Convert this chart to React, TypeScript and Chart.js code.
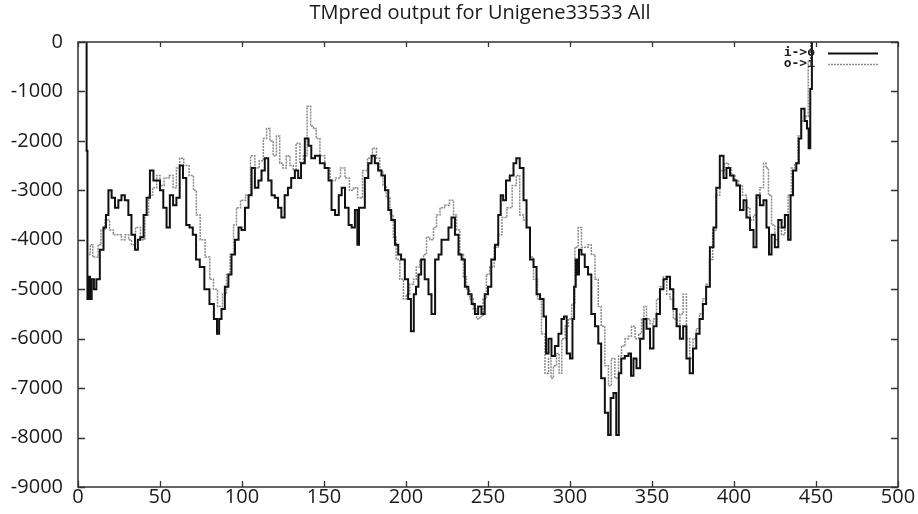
import React, { useEffect, useRef } from "react";
import { Chart, registerables } from "chart.js";

Chart.register(...registerables);

const TITLE = "TMpred output for Unigene33533 All";
const SERIES_NAMES = ["i->o", "o->i"];
const X_TICKS = [0, 50, 100, 150, 200, 250, 300, 350, 400, 450, 500];
const Y_TICKS = [0, -1000, -2000, -3000, -4000, -5000, -6000, -7000, -8000, -9000];

// i->o (solid black)
const ioPos = [
  5, 5.5, 6, 7, 7.7, 9, 10.4, 12, 14.6, 16.5,
  17.6, 19.5, 21.5, 23.6, 25.6, 27.4, 29.7, 31.7, 33.5, 36,
  37, 39, 41, 42.7, 45, 47, 49, 51, 53, 55,
  57, 59, 61, 63, 65, 67, 69, 71, 73, 75.5,
  78.6, 81.7, 84, 85.5, 86.6, 88.4, 90.7, 92.7, 94.5, 97,
  98.8, 100.6, 103, 105, 106.7, 109, 111, 112.8, 115, 117,
  119, 121, 123, 125, 127, 129, 131, 133.5, 135, 137,
  139.6, 141.5, 143, 146, 149, 151.8, 153.7, 155.5, 158, 160,
  161.6, 164, 166, 167.7, 170, 170.7, 172, 173.8, 176, 178,
  180, 182, 184, 186, 188.4, 190, 192, 194.5, 196, 198,
  200.6, 202, 204, 205.5, 206.7, 208.5, 210, 212.8, 214.6, 216.5,
  219, 220.7, 222.6, 225, 226.8, 228.7, 231, 233, 234.8, 237,
  239, 241, 243, 245, 247, 249, 251, 253, 255.5, 257,
  258.5, 260, 262, 264.6, 266.5, 268, 270.7, 272.6, 274.4, 276.8,
  278.7, 280.5, 283, 284.8, 286, 287.8, 289.6, 292, 293.9, 295.7,
  297, 299, 301, 302, 303, 304, 305, 306, 308, 310,
  312, 314, 316.5, 318, 320, 322.5, 324, 325.6, 327.4, 329,
  330.5, 332, 334.8, 336.6, 337.8, 339.6, 341.5, 344, 345.7, 347.6,
  350, 351.8, 353.7, 356, 358, 360, 362, 364, 366, 368,
  370, 372, 374, 376, 378, 380, 382, 384, 386.6, 388.4,
  390, 392.7, 394.5, 396.3, 398.8, 400.6, 402.4, 404.9, 406.7, 408.5,
  411, 412.8, 414.6, 417, 418.9, 420.7, 422, 423.8, 426, 428,
  430, 432, 434, 435, 437, 439, 440, 442, 444, 445,
  446, 447, 448,
];
const ioScore = [
  0, -2200, -5200, -4750, -5200, -4800, -5000, -4800, -4200, -3750,
  -3500, -3000, -3150, -3350, -3200, -3100, -3200, -3500, -3900, -4200,
  -4000, -3950, -3500, -3150, -2600, -2800, -2800, -3000, -3350, -3750,
  -3100, -3300, -3150, -2500, -2750, -3700, -3750, -3900, -4400, -4550,
  -5000, -5300, -5600, -5900, -5600, -5400, -4950, -4700, -4300, -4000,
  -3750, -3800, -3350, -3100, -2550, -2950, -2800, -2600, -2350, -2800,
  -3100, -3150, -3350, -3550, -3100, -2950, -2750, -2600, -2750, -2450,
  -1950, -2100, -2350, -2300, -2450, -2550, -2800, -3400, -3500, -3100,
  -2950, -3350, -3700, -3750, -3400, -4100, -3350, -3350, -2750, -2450,
  -2300, -2450, -2600, -2700, -3000, -3400, -3600, -4100, -4300, -4400,
  -4800, -5200, -5850, -5100, -4950, -4700, -4400, -4800, -5100, -5500,
  -4400, -4300, -4000, -4000, -3750, -3550, -3900, -4300, -4400, -4950,
  -5100, -5300, -5500, -5350, -5500, -5100, -4950, -4400, -4100, -3500,
  -3100, -3200, -2800, -2700, -2450, -2350, -2550, -3200, -3750, -4400,
  -4550, -5100, -5200, -5550, -6300, -6000, -6350, -6150, -5900, -5600,
  -5550, -6300, -6400, -5600, -4950, -4400, -4700, -4200, -4300, -4550,
  -4700, -5500, -5750, -6100, -6800, -7500, -7950, -7200, -7100, -7950,
  -6700, -6400, -6350, -6300, -6750, -6400, -6600, -6000, -5600, -5800,
  -6200, -5750, -5500, -5000, -4800, -4750, -5000, -5400, -5750, -6000,
  -5750, -6400, -6700, -6200, -5900, -5600, -5300, -4950, -4150, -3750,
  -2950, -2300, -2750, -2550, -2700, -2800, -2900, -3400, -3200, -3550,
  -3800, -4150, -3100, -3300, -3200, -3750, -4300, -3900, -4150, -3600,
  -3750, -3500, -4000, -3100, -2600, -2450, -1950, -1350, -1600, -1750,
  -2150, -950, 0,
];

// o->i (dotted grey)
const oiPos = [
  6.5, 8.5, 9.5, 11.5, 13, 15, 18, 20.5, 22.5, 25.6,
  27.4, 30, 31.7, 33.5, 36.6, 39.6, 42, 44, 47, 49,
  51, 54, 57, 59, 61, 63, 66, 69.5, 71.3, 73,
  76, 79, 81.7, 83.5, 86.6, 89.6, 91.5, 94, 95.7, 97.6,
  100.6, 103.7, 106.7, 109, 112, 114, 116, 118, 120, 122,
  124, 126, 128, 130.5, 132, 134, 136.6, 138.4, 141, 142.7,
  144.5, 146, 149, 152, 155.5, 158.5, 161.6, 164, 167, 169,
  172, 175, 178, 181, 183, 185, 187, 189, 191.5, 193,
  195, 197.5, 199.4, 201, 203.7, 205.5, 207, 209.8, 211.6, 213.4,
  215.8, 217.7, 219.5, 222, 225, 228, 230, 231.7, 234, 236,
  237.8, 240, 242, 244, 246, 248, 250, 252, 255.5, 257,
  260, 263, 266.5, 268, 270.7, 272.6, 274.4, 276.8, 278.7, 281.7,
  283.5, 286, 287.8, 289, 290.8, 292.7, 294, 296, 298, 300,
  302, 304, 306, 308, 310, 312, 314, 316.5, 318, 320,
  322.5, 324.4, 326, 328.7, 330.5, 332.3, 334.8, 336.6, 338.4, 341,
  342.7, 344.5, 345.7, 347.6, 350, 351.8, 353.7, 356, 358, 360,
  362, 364, 366, 368, 370, 372, 374, 376, 378, 380,
  382, 384, 386, 388, 390, 392.7, 395.7, 397.6, 399.4, 401.8,
  403.7, 406.7, 408.5, 411, 412.8, 414.6, 417, 419, 420, 422,
  423.8, 426, 428, 430, 432, 434, 436, 438, 440, 442,
  444.5, 446, 447.5,
];
const oiScore = [
  -4300, -4100, -4350, -4350, -4100, -3800, -3600, -3800, -3900, -3900,
  -4000, -3900, -4000, -4100, -3750, -4000, -3500, -3100, -2950, -2700,
  -2900, -2750, -2700, -2950, -2550, -2350, -2500, -2700, -3000, -3500,
  -4000, -4350, -4800, -5000, -5350, -5100, -4700, -4300, -3700, -3350,
  -3200, -3100, -2300, -2550, -2400, -1950, -1750, -2000, -2300, -1900,
  -2450, -2550, -2300, -2500, -2600, -2050, -2450, -2300, -1300, -1700,
  -1750, -1950, -2300, -2550, -2800, -2750, -2550, -2750, -3000, -2950,
  -3150, -2600, -2350, -2150, -2350, -2600, -2900, -3150, -3500, -3950,
  -4400, -4800, -5200, -5100, -4900, -4800, -4550, -4400, -4300, -3950,
  -4000, -3750, -3500, -3350, -3300, -3200, -3500, -3800, -4300, -4750,
  -5000, -5200, -5400, -5600, -5550, -5200, -4700, -4550, -4150, -3900,
  -3550, -3350, -2900, -2700, -3500, -3600, -3750, -4350, -4800, -5200,
  -5900, -6700, -6400, -6800, -6550, -6300, -6700, -6000, -5750, -5600,
  -5300, -4150, -3750, -4150, -4150, -4100, -4300, -4800, -5350, -5750,
  -6550, -6950, -6400, -6800, -6350, -6150, -6000, -5950, -5750, -6000,
  -5900, -5600, -5350, -5600, -5700, -5600, -5200, -4950, -4750, -5100,
  -5200, -5600, -5750, -5500, -5100, -6000, -6400, -6000, -5800, -5500,
  -5200, -4900, -4400, -3800, -3100, -2600, -2450, -2550, -2700, -2800,
  -2900, -3100, -3350, -3600, -3500, -3150, -2950, -2450, -2550, -3100,
  -3700, -4000, -3750, -3900, -3500, -3100, -2550, -2450, -1900, -1600,
  -1500, -400, 0,
];

const BLACK = "#111111";
const GREY = "#8a8a8a";

const framePlugin = {
  id: "gnuplotFrame",
  afterDraw(chart: any) {
    const { ctx, chartArea, scales } = chart;
    const { left, right, top, bottom } = chartArea;
    const xs = scales.x;
    const ys = scales.y;
    ctx.save();
    ctx.strokeStyle = "#333333";
    ctx.lineWidth = 1.5;
    ctx.strokeRect(left, top, right - left, bottom - top);
    ctx.lineWidth = 1.3;
    ctx.beginPath();
    Y_TICKS.forEach((v) => {
      const py = Math.round(ys.getPixelForValue(v)) + 0.5;
      ctx.moveTo(left, py);
      ctx.lineTo(left + 7, py);
      ctx.moveTo(right, py);
      ctx.lineTo(right - 7, py);
    });
    X_TICKS.forEach((v) => {
      const px = Math.round(xs.getPixelForValue(v)) + 0.5;
      ctx.moveTo(px, bottom);
      ctx.lineTo(px, bottom - 6);
      ctx.moveTo(px, top);
      ctx.lineTo(px, top + 5);
    });
    ctx.stroke();

    // title
    ctx.fillStyle = "#1a1a1a";
    ctx.font = '20px "Open Sans", sans-serif';
    ctx.textAlign = "center";
    ctx.textBaseline = "middle";
    ctx.fillText(TITLE, 480, 13);

    // key
    ctx.font = 'bold 13px "DejaVu Sans Mono", monospace';
    ctx.textAlign = "right";
    ctx.fillStyle = "#222222";
    ctx.fillText(SERIES_NAMES[0], 815, 53);
    ctx.fillText(SERIES_NAMES[1], 815, 64);
    ctx.strokeStyle = BLACK;
    ctx.lineWidth = 2;
    ctx.beginPath();
    ctx.moveTo(828, 53.5);
    ctx.lineTo(878, 53.5);
    ctx.stroke();
    ctx.strokeStyle = GREY;
    ctx.lineWidth = 1.5;
    ctx.setLineDash([2, 1]);
    ctx.beginPath();
    ctx.moveTo(828, 64.5);
    ctx.lineTo(878, 64.5);
    ctx.stroke();
    ctx.restore();
  },
};

export default function App() {
  const canvasRef = useRef<HTMLCanvasElement | null>(null);

  useEffect(() => {
    const canvas = canvasRef.current;
    if (!canvas) return;
    const chart = new Chart(canvas, {
      type: "line",
      data: {
        datasets: [
          {
            label: SERIES_NAMES[0],
            data: ioPos.map((x, i) => ({ x, y: ioScore[i] })),
            borderColor: BLACK,
            borderWidth: 2,
            pointRadius: 0,
            stepped: "middle",
            fill: false,
          },
          {
            label: SERIES_NAMES[1],
            data: oiPos.map((x, i) => ({ x, y: oiScore[i] })),
            borderColor: GREY,
            borderWidth: 1.5,
            borderDash: [2, 1],
            pointRadius: 0,
            stepped: "middle",
            fill: false,
          },
        ],
      },
      options: {
        responsive: false,
        animation: false,
        layout: { padding: { top: 42, right: 20, left: 0, bottom: 0 } },
        plugins: {
          legend: { display: false },
          title: { display: false },
          tooltip: { enabled: false },
        },
        scales: {
          x: {
            type: "linear",
            min: 0,
            max: 500,
            afterBuildTicks: (scale: any) => {
              scale.ticks = X_TICKS.map((v) => ({ value: v }));
            },
            afterFit: (scale: any) => {
              scale.height = 21;
            },
            grid: { display: false, drawTicks: false },
            border: { display: false },
            ticks: {
              padding: -1,
              maxRotation: 0,
              autoSkip: false,
              color: "#1a1a1a",
              font: { family: '"Open Sans", sans-serif', size: 20, lineHeight: 1.1 },
              callback: (v: any) => String(v),
            },
          },
          y: {
            type: "linear",
            min: -9000,
            max: 0,
            afterBuildTicks: (scale: any) => {
              scale.ticks = Y_TICKS.map((v) => ({ value: v }));
            },
            afterFit: (scale: any) => {
              scale.width = 78;
            },
            grid: { display: false, drawTicks: false },
            border: { display: false },
            ticks: {
              padding: 15,
              autoSkip: false,
              color: "#1a1a1a",
              font: { family: '"Open Sans", sans-serif', size: 20 },
              callback: (v: any) => String(v),
            },
          },
        },
      },
      plugins: [framePlugin],
    });
    return () => chart.destroy();
  }, []);

  return (
    <div style={{ position: "fixed", left: 0, top: 0, width: 918, height: 514, background: "#ffffff" }}>
      <canvas ref={canvasRef} width={918} height={514} style={{ display: "block", width: 918, height: 514 }} />
    </div>
  );
}
